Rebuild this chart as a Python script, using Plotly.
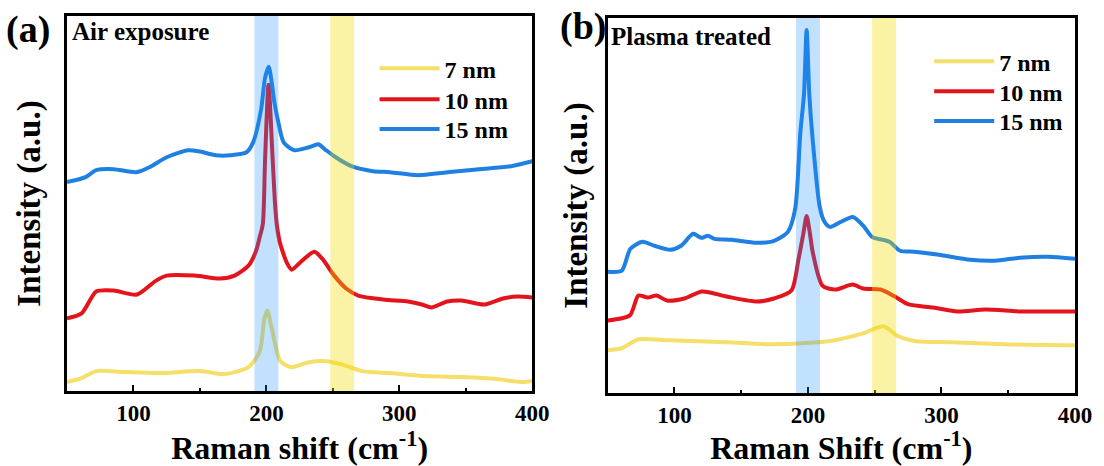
import plotly.graph_objects as go

# ---------------- data (Raman shift in cm^-1, intensity in a.u.) ----------------
# Panel (a) Air exposure
a15_x = [50, 64, 72, 85, 102, 112, 125, 141, 149, 162, 173, 185, 190, 196, 199, 201.7, 204, 206, 209, 213,
         221, 232, 239, 244, 251, 264, 280, 293, 314, 336, 360, 384, 400]
a15_y = [210, 215, 222, 223, 220, 225, 235, 242, 241, 237, 237, 240, 250, 283, 315, 326, 310, 290, 270, 250,
         242, 245, 248, 243, 236, 226, 221, 220, 217, 220, 223, 226, 231]

a10_x = [50, 61, 72, 85, 102.6, 117, 125, 146, 165, 176, 186.5, 192, 195, 197.3, 199, 201.6, 204.5, 206.5,
         208, 210, 212, 215, 219, 226, 236, 242, 251, 260, 269, 288, 306.5, 317, 324, 336, 346.5, 364, 378, 389, 400]
a10_y = [73, 78, 100, 101, 97, 111, 116, 116, 113, 116, 126, 140, 155, 168, 233, 308, 238, 188,
         165, 150, 141, 130, 122, 130, 140, 133, 116, 103, 96, 92, 90, 87, 84, 90, 91, 87, 93, 95, 94]

a7_x = [50, 61, 72, 93, 120, 150, 168, 186.5, 195, 198.5, 200.7, 204, 210.5, 218.6, 232, 245, 256, 272,
        293, 320, 346.5, 373, 392, 400]
a7_y = [9, 13, 20, 19, 18, 20, 17, 24, 40, 73, 81, 63, 30, 24, 29, 30, 27, 20,
        18, 15, 14, 12, 9, 10]

# Panel (b) Plasma treated
b15_x = [50, 60.5, 67, 76, 85, 97, 105, 114, 120, 125, 130, 143, 161.5, 174.6, 185, 190.4, 194.3, 197, 199, 201,
         203.5, 208.7, 212, 216.5, 224.5, 233.7, 241.5, 248, 261, 269, 279.5, 298, 321.5, 340, 358.7, 379.6, 400]
b15_y = [122, 123, 145, 152, 148, 144, 148, 160, 156, 158, 155, 154, 151, 153, 162, 185, 262, 300, 365, 300,
         255, 188, 173, 167, 172, 177, 168, 157, 152, 143, 142, 139, 134, 133, 136, 137, 135]

b10_x = [50, 66.6, 73, 80, 86.5, 94.4, 107.4, 120.7, 139, 161.5, 174.6, 187.6, 193, 196.5, 199, 201.5, 203.5,
         210.8, 220.3, 233.4, 241.3, 254.4, 265, 275.5, 293.8, 312, 333, 359, 385, 400]
b10_y = [73, 78, 98, 96, 98, 93, 95, 102, 97, 92, 95, 103, 135, 160, 178, 160, 142,
         108, 104, 109, 105, 104, 97, 89, 86, 82, 84, 82, 82, 82]

b7_x = [50, 60.5, 73, 96, 139, 174.6, 215, 241.3, 256.5, 267.6, 280.7, 307, 346.6, 400]
b7_y = [43, 45, 54, 53, 51, 49, 52, 60, 67, 57, 52, 51, 49, 48]

series_names = ["7 nm", "10 nm", "15 nm"]
colors = ["#F5DF6A", "#E3141C", "#1F80E2"]

blue_band = [191, 209]
yellow_band = [248, 266]
x_ticks = [100, 200, 300, 400]

# ---------------- figure ----------------
W, H = 1104, 466
ML, MR, MT, MB = 67, 21, 16, 71
PW, PH = W - ML - MR, H - MT - MB


def px(xp):
    return (xp - ML) / PW


def py(yp):
    return (H - MB - yp) / PH


FONT = "Liberation Serif"


def bfont(s):
    return dict(family=FONT, size=s, color="black", weight="bold")


fig = go.Figure()

# each legend entry gets its own legend box so the row spacing matches the original
legend_rows = {
    "a": (377, [69, 100, 130]),
    "b": (936, [62, 92, 122]),
}
panels = [
    ("a", "x", "y", [a7_x, a10_x, a15_x], [a7_y, a10_y, a15_y]),
    ("b", "x2", "y2", [b7_x, b10_x, b15_x], [b7_y, b10_y, b15_y]),
]
legend_layout = {}
k = 0
for key, xa, ya, xs, ys in panels:
    lx, lys = legend_rows[key]
    for name, c, xv, yv, ly in zip(series_names, colors, xs, ys, lys):
        k += 1
        lname = "legend" if k == 1 else f"legend{k}"
        fig.add_trace(go.Scatter(
            x=xv, y=yv, mode="lines", name=name, xaxis=xa, yaxis=ya, legend=lname,
            line=dict(color=c, width=4, shape="spline", smoothing=0.7),
        ))
        legend_layout[lname] = dict(x=px(lx), y=py(ly), xanchor="left", yanchor="middle",
                                    bgcolor="rgba(0,0,0,0)", font=bfont(24), itemwidth=60)

axis_common = dict(
    showline=True, linewidth=2.5, linecolor="black", mirror=True,
    showgrid=False, zeroline=False,
)
xcommon = dict(axis_common, range=[50, 400], tickvals=x_ticks, ticks="inside", ticklen=6,
               tickwidth=2, tickcolor="black",
               minor=dict(tickvals=[150, 250, 350], ticks="inside", ticklen=3, tickwidth=2, tickcolor="black"),
               tickfont=bfont(23))
ycommon = dict(axis_common, range=[0, 377], showticklabels=False, ticks="")

fig.update_layout(
    width=W, height=H,
    margin=dict(l=ML, r=MR, t=MT, b=MB),
    paper_bgcolor="white", plot_bgcolor="white",
    xaxis=dict(xcommon, domain=[0, px(536)], anchor="y",
               title=dict(text="Raman shift (cm<sup>-1</sup>)", standoff=3, font=bfont(32))),
    yaxis=dict(ycommon, domain=[py(393), py(16)], anchor="x",
               title=dict(text="Intensity (a.u.)", standoff=14, font=bfont(33))),
    xaxis2=dict(xcommon, domain=[px(612), 1], anchor="y2",
                title=dict(text="Raman Shift (cm<sup>-1</sup>)", standoff=3, font=bfont(32))),
    yaxis2=dict(ycommon, domain=[0, py(18)], anchor="x2",
                title=dict(text="Intensity (a.u.)", standoff=8, font=bfont(33))),
    showlegend=True,
    **legend_layout,
)

# shaded bands (drawn above the curves, semi-transparent)
for xr, yr in [("x", "y domain"), ("x2", "y2 domain")]:
    fig.add_shape(type="rect", xref=xr, yref=yr, x0=blue_band[0], x1=blue_band[1], y0=0, y1=1,
                  fillcolor="rgba(30,144,255,0.27)", line_width=0, layer="above")
    fig.add_shape(type="rect", xref=xr, yref=yr, x0=yellow_band[0], x1=yellow_band[1], y0=0, y1=1,
                  fillcolor="rgba(240,220,0,0.35)", line_width=0, layer="above")

fig.add_annotation(xref="paper", yref="paper", x=px(3), y=py(30), text="(a)", showarrow=False,
                   xanchor="left", yanchor="middle", font=bfont(38))
fig.add_annotation(xref="paper", yref="paper", x=px(562), y=py(27), text="(b)", showarrow=False,
                   xanchor="left", yanchor="middle", font=bfont(38))
fig.add_annotation(xref="paper", yref="paper", x=px(70), y=py(32), text="Air exposure", showarrow=False,
                   xanchor="left", yanchor="middle", font=bfont(25))
fig.add_annotation(xref="paper", yref="paper", x=px(613), y=py(37), text="Plasma treated", showarrow=False,
                   xanchor="left", yanchor="middle", font=bfont(25))

fig.write_html("out.html")
